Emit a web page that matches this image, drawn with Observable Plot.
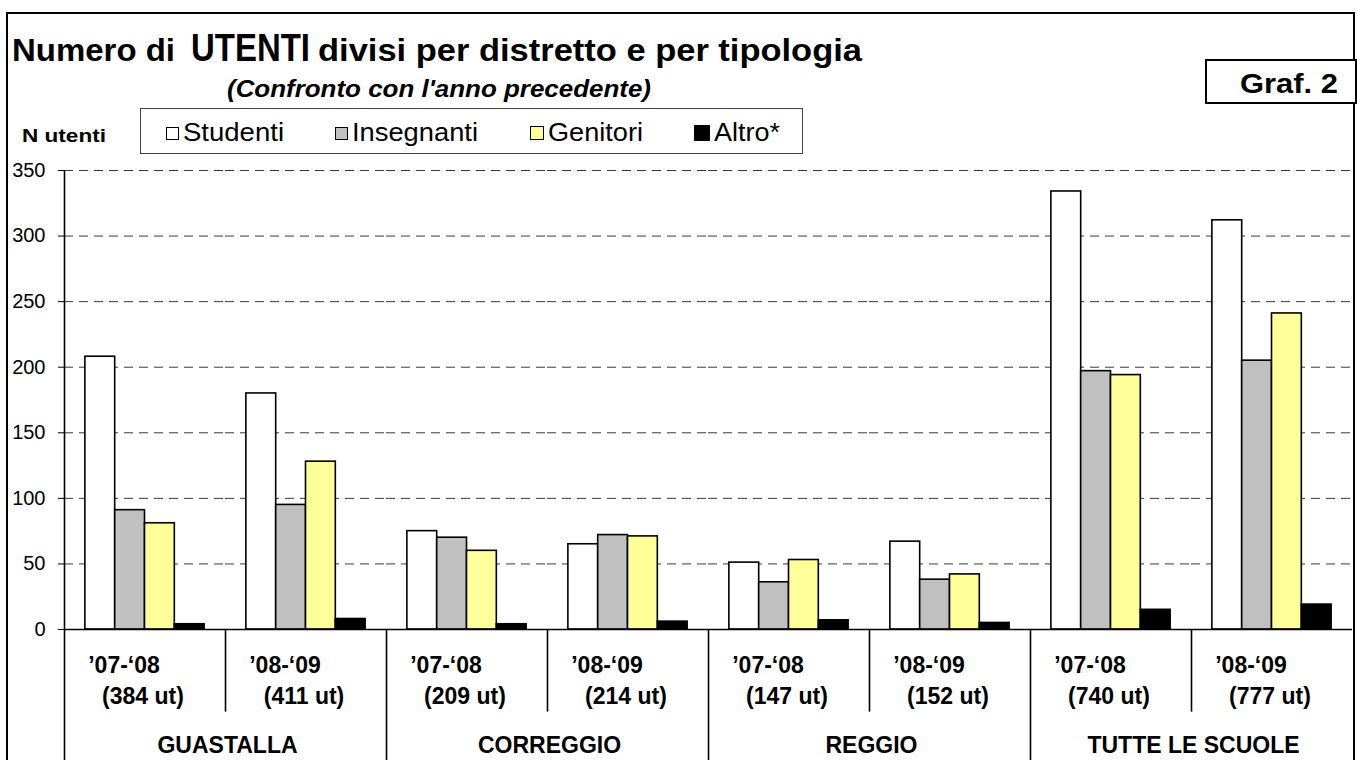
<!DOCTYPE html>
<html>
<head>
<meta charset="utf-8">
<script src="https://cdn.jsdelivr.net/npm/d3@7"></script>
<script src="https://cdn.jsdelivr.net/npm/@observablehq/plot@0.6"></script>
<style>
  html, body { margin: 0; padding: 0; background: #fff; }
  body { font-family: "Liberation Sans", Arial, sans-serif; color: #000; }
  #wrap { position: relative; width: 1357px; height: 760px; overflow: hidden; background: #fff; }
  #frame { position: absolute; left: 6px; top: 12px; width: 1349px; height: 800px; border: 2px solid #000; box-sizing: border-box; }
  .abs { position: absolute; white-space: nowrap; line-height: 1; transform-origin: 0 50%; }
  .b { font-weight: bold; }
  #grafbox { position: absolute; left: 1205px; top: 59px; width: 152px; height: 45px; border: 2px solid #000; box-sizing: border-box; background: #fff; }
  #legend { position: absolute; left: 140px; top: 108px; width: 663px; height: 46px; border: 1px solid #444; box-sizing: border-box; background: #fff; }
  .sw { position: absolute; border: 1px solid #000; box-sizing: border-box; }
  #chart { position: absolute; left: 0; top: 160px; }
</style>
</head>
<body>
<div id="wrap">
  <div id="frame"></div>
  <div id="grafbox"></div>
  <div id="legend"></div>
  <div id="chart"></div>
</div>
<script>
// ---- data ----
const titleParts = ["Numero di", "UTENTI", "divisi per distretto e per tipologia"];
const subtitle = "(Confronto con l'anno precedente)";
const yLabel = "N utenti";
const badge = "Graf. 2";
const districts = ["GUASTALLA", "CORREGGIO", "REGGIO", "TUTTE LE SCUOLE"];
const years = ["’07-‘08", "’08-‘09"];
const types = ["Studenti", "Insegnanti", "Genitori", "Altro*"];
const typeColors = ["#ffffff", "#c0c0c0", "#ffff99", "#000000"];
// order: GUASTALLA 07-08, 08-09, CORREGGIO 07-08, 08-09, REGGIO 07-08, 08-09, TUTTE 07-08, 08-09
const totals     = [384, 411, 209, 214, 147, 152, 740, 777];
const studenti   = [208, 180, 75, 65, 51, 67, 334, 312];
const insegnanti = [91, 95, 70, 72, 36, 38, 197, 205];
const genitori   = [81, 128, 60, 71, 53, 42, 194, 241];
const altro      = [4, 8, 4, 6, 7, 5, 15, 19];
const yTicks = [0, 50, 100, 150, 200, 250, 300, 350];

// ---- build tables ----
const series = [studenti, insegnanti, genitori, altro];
const groups = [];
districts.forEach((d, di) => years.forEach((y, yi) => {
  const k = di * years.length + yi;
  groups.push({key: d + " " + y, district: d, year: y, yi, count: "(" + totals[k] + " ut)"});
}));
const rows = [];
groups.forEach((g, k) => types.forEach((t, ti) => {
  rows.push({key: g.key, type: t, i0: ti, i1: ti + 1, value: series[ti][k]});
}));
const xPad = 0.7;
const firstYear = groups.filter(g => g.yi === 0);
const secondYear = groups.filter(g => g.yi === 1);
const yMax = yTicks[yTicks.length - 1];

const font = "'Liberation Sans', Arial, sans-serif";

const chart = Plot.plot({
  width: 1357,
  height: 600,
  marginTop: 10,
  marginBottom: 131,
  marginLeft: 61,
  marginRight: 2,
  style: {fontFamily: font, fontSize: "20px", color: "#000", background: "transparent", overflow: "visible"},
  fx: {domain: groups.map(g => g.key), padding: 0, axis: null},
  x: {domain: [-xPad, types.length + xPad], axis: null},
  y: {domain: [0, yMax], ticks: yTicks, tickSize: 6, tickPadding: 13, label: null, tickFormat: d => String(d)},
  color: {domain: types, range: typeColors},
  marks: [
    Plot.ruleY(yTicks.filter(t => t > 0), {stroke: "#3a3a3a", strokeWidth: 1, strokeDasharray: "9,6"}),
    Plot.rect(rows, {fx: "key", x1: "i0", x2: "i1", y1: 0, y2: "value", fill: "type", stroke: "#000", strokeWidth: 1.6}),
    Plot.ruleY([0], {stroke: "#000", strokeWidth: 1.6}),
    Plot.ruleX([groups[0]], {fx: "key", x: -xPad, y1: 0, y2: yMax, stroke: "#000", strokeWidth: 1.6}),
    Plot.ruleX(firstYear, {fx: "key", x: -xPad, y1: 0, y2: -100, stroke: "#000", strokeWidth: 1.6}),
    Plot.ruleX(secondYear, {fx: "key", x: -xPad, y1: 0, y2: -63, stroke: "#000", strokeWidth: 1.6}),
    Plot.text(groups, {fx: "key", text: "year", frameAnchor: "bottom", lineAnchor: "bottom", dy: 43, dx: -21, fontSize: 23, fontWeight: "bold"}),
    Plot.text(groups, {fx: "key", text: "count", frameAnchor: "bottom", lineAnchor: "bottom", dy: 74, dx: -2, fontSize: 23, fontWeight: "bold"}),
    Plot.text(firstYear, {fx: "key", text: "district", frameAnchor: "bottom-right", textAnchor: "middle", lineAnchor: "bottom", dy: 123, dx: 2, fontSize: 23, fontWeight: "bold"})
  ]
});
document.getElementById("chart").appendChild(chart);

// ---- HTML text blocks (title, subtitle, badge, legend) ----
const wrap = document.getElementById("wrap");
// place text so that its baseline sits at `base`, left at `left`, and stretch to `w` px
function addText(parent, txt, left, base, size, w, cls) {
  const el = document.createElement("div");
  el.className = "abs " + (cls || "");
  el.style.fontSize = size + "px";
  el.style.left = left + "px";
  el.style.top = (base - 0.8465 * size) + "px";
  el.textContent = txt;
  parent.appendChild(el);
  if (w) {
    const nat = el.getBoundingClientRect().width;
    el.style.transform = "scaleX(" + (w / nat) + ")";
  }
  return el;
}
addText(wrap, titleParts[0], 12, 61, 31, 163, "b");
addText(wrap, titleParts[1], 191, 61, 39, 119, "b");
addText(wrap, titleParts[2], 318, 61, 31, 544, "b");
const sub = addText(wrap, subtitle, 227, 97, 24, 424, "b");
sub.style.fontStyle = "italic";
addText(wrap, yLabel, 22, 142, 18, 84, "b");
addText(wrap, badge, 1240, 94, 27, 98, "b");

const legend = document.getElementById("legend");
const swX = [25, 194, 389, 553];
const swSize = [13, 13, 14, 16];
const txtW = [101, 126, 95, 66];
types.forEach((t, i) => {
  const s = document.createElement("div");
  s.className = "sw";
  s.style.left = swX[i] + "px";
  s.style.top = (24 - swSize[i] / 2) + "px";
  s.style.width = swSize[i] + "px";
  s.style.height = swSize[i] + "px";
  s.style.background = typeColors[i];
  legend.appendChild(s);
  addText(legend, t, swX[i] + swSize[i] + 4, 32, 26, txtW[i]);
});
</script>
</body>
</html>
